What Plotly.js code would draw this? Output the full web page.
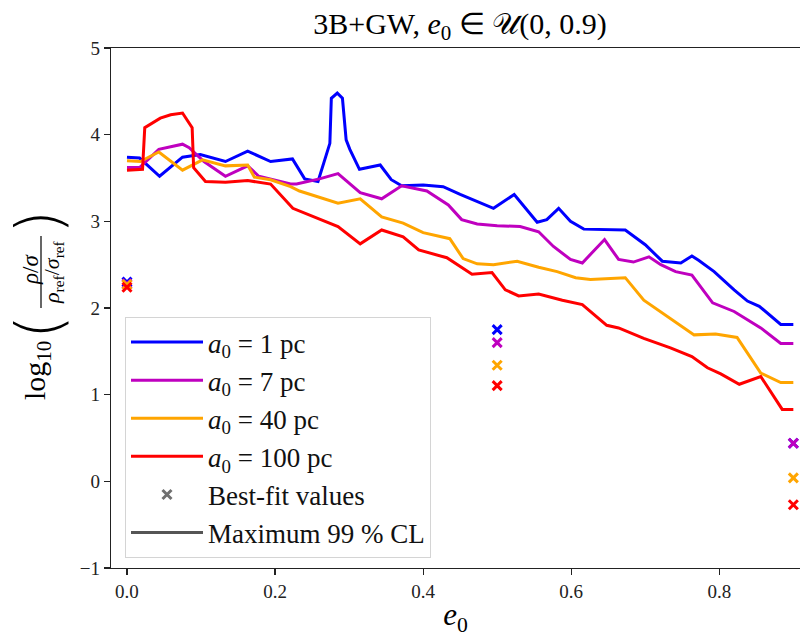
<!DOCTYPE html>
<html>
<head>
<meta charset="utf-8">
<script src="https://cdn.plot.ly/plotly-3.0.1.min.js"></script>
<style>
  html, body { margin: 0; padding: 0; background: #ffffff; }
  #chart { width: 800px; height: 637px; }
</style>
</head>
<body>
<div id="chart"></div>
<script>
// Maximum 99% CL curves, log10((rho/sigma)/(rho_ref/sigma_ref)) versus e0
const e1pc = [0, 0.017, 0.044, 0.075, 0.099, 0.133, 0.163, 0.194, 0.2235, 0.240, 0.258, 0.274, 0.276, 0.284, 0.291, 0.296, 0.301, 0.314, 0.342, 0.357, 0.371, 0.400, 0.427, 0.450, 0.495, 0.523, 0.554, 0.567, 0.583, 0.599, 0.617, 0.673, 0.700, 0.723, 0.748, 0.763, 0.772, 0.793, 0.820, 0.838, 0.854, 0.883, 0.900];
const v1pc = [3.74, 3.73, 3.52, 3.74, 3.77, 3.69, 3.81, 3.69, 3.72, 3.49, 3.46, 3.90, 4.42, 4.48, 4.42, 3.94, 3.83, 3.60, 3.65, 3.48, 3.41, 3.42, 3.40, 3.31, 3.15, 3.31, 2.99, 3.02, 3.15, 3.00, 2.91, 2.90, 2.73, 2.54, 2.52, 2.60, 2.55, 2.42, 2.21, 2.08, 2.02, 1.81, 1.81];

const e7pc = [0, 0.017, 0.043, 0.075, 0.084, 0.104, 0.133, 0.163, 0.178, 0.221, 0.229, 0.260, 0.285, 0.297, 0.315, 0.344, 0.371, 0.405, 0.434, 0.452, 0.473, 0.500, 0.531, 0.556, 0.576, 0.599, 0.615, 0.645, 0.664, 0.684, 0.705, 0.721, 0.741, 0.763, 0.791, 0.820, 0.856, 0.883, 0.900];
const v7pc = [3.62, 3.62, 3.83, 3.89, 3.85, 3.69, 3.52, 3.64, 3.52, 3.43, 3.43, 3.49, 3.55, 3.46, 3.33, 3.26, 3.41, 3.35, 3.19, 3.02, 2.97, 2.95, 2.94, 2.88, 2.71, 2.56, 2.52, 2.79, 2.56, 2.53, 2.59, 2.50, 2.42, 2.38, 2.06, 1.96, 1.77, 1.59, 1.59];

const e40pc = [0, 0.018, 0.043, 0.075, 0.102, 0.133, 0.163, 0.172, 0.194, 0.221, 0.233, 0.260, 0.285, 0.315, 0.344, 0.373, 0.400, 0.436, 0.454, 0.473, 0.495, 0.527, 0.556, 0.581, 0.606, 0.626, 0.673, 0.698, 0.730, 0.766, 0.795, 0.824, 0.856, 0.883, 0.900];
const v40pc = [3.70, 3.69, 3.80, 3.59, 3.71, 3.64, 3.65, 3.51, 3.48, 3.40, 3.35, 3.28, 3.21, 3.26, 3.05, 2.98, 2.87, 2.80, 2.57, 2.51, 2.50, 2.54, 2.47, 2.42, 2.35, 2.33, 2.35, 2.09, 1.90, 1.69, 1.70, 1.66, 1.25, 1.14, 1.14];

const e100pc = [0, 0.021, 0.024, 0.045, 0.059, 0.075, 0.088, 0.090, 0.106, 0.133, 0.163, 0.194, 0.224, 0.251, 0.285, 0.315, 0.344, 0.373, 0.394, 0.432, 0.466, 0.493, 0.511, 0.529, 0.556, 0.588, 0.615, 0.648, 0.664, 0.698, 0.734, 0.763, 0.784, 0.802, 0.827, 0.856, 0.885, 0.900];
const v100pc = [3.59, 3.60, 4.08, 4.19, 4.23, 4.25, 4.08, 3.62, 3.46, 3.45, 3.47, 3.43, 3.15, 3.06, 2.94, 2.74, 2.90, 2.82, 2.67, 2.58, 2.39, 2.41, 2.21, 2.14, 2.16, 2.09, 2.04, 1.80, 1.77, 1.65, 1.54, 1.44, 1.31, 1.24, 1.12, 1.21, 0.83, 0.83];

// Best-fit values at the sampled eccentricities
const bestE = [0, 0.5, 0.9];
const best1pc = [2.30, 1.75, 0.44];
const best7pc = [2.28, 1.60, 0.44];
const best40pc = [2.27, 1.34, 0.04];
const best100pc = [2.24, 1.105, -0.27];

const seriesNames = ['<i>a</i><sub>0</sub> = 1 pc', '<i>a</i><sub>0</sub> = 7 pc', '<i>a</i><sub>0</sub> = 40 pc', '<i>a</i><sub>0</sub> = 100 pc'];
const colors = ['#0000ff', '#bf00bf', '#ffa500', '#ff0000'];
const tickLabels = ['0.0', '0.2', '0.4', '0.6', '0.8'];
const tickValues = [0, 0.2, 0.4, 0.6, 0.8];

const curves = [[e1pc, v1pc], [e7pc, v7pc], [e40pc, v40pc], [e100pc, v100pc]];
const bests = [best1pc, best7pc, best40pc, best100pc];

const FONT = 'Liberation Serif';

const traces = [];
curves.forEach(([xs, ys], i) => {
  traces.push({
    x: xs, y: ys, type: 'scatter', mode: 'lines',
    name: seriesNames[i], legendgroup: 'g' + i,
    line: { color: colors[i], width: 3 },
    hoverinfo: 'skip'
  });
  traces.push({
    x: bestE, y: bests[i], type: 'scatter', mode: 'markers',
    showlegend: false, cliponaxis: false, legendgroup: 'g' + i,
    marker: { symbol: 'x-thin', size: 9, line: { color: colors[i], width: 3 } },
    hoverinfo: 'skip'
  });
});
// legend-only entries
traces.push({
  x: [null], y: [null], type: 'scatter', mode: 'markers', name: 'Best-fit values', legendgroup: 'bf',
  marker: { symbol: 'x-thin', size: 9, line: { color: '#707070', width: 3 } }
});
traces.push({
  x: [null], y: [null], type: 'scatter', mode: 'lines', name: 'Maximum 99 % CL', legendgroup: 'cl',
  line: { color: '#555555', width: 3 }
});

// y-axis label assembled from pieces: log10 ( (rho/sigma) / (rho_ref/sigma_ref) )
const L = 111, B = 568, W = 689, H = 520;
function lab(text, px, py, size, family, weight) {
  return {
    xref: 'paper', yref: 'paper', x: 0, y: 0,
    xshift: px - L, yshift: B - py,
    xanchor: 'center', yanchor: 'middle',
    text: text, showarrow: false, textangle: -90,
    font: { family: family || FONT, size: size, color: '#000', weight: weight || 'normal' }
  };
}
const annotations = [
  lab('log<sub>10</sub>', 37, 371, 30),
  lab('(', 38, 327, 62, 'DejaVu Sans', 200),
  lab(')', 38, 222, 62, 'DejaVu Sans', 200),
  lab('<i>ρ</i>/<i>σ</i>', 30, 270, 23),
  lab('<i>ρ</i><sub>ref</sub>/<i>σ</i><sub>ref</sub>', 53, 272, 22)
];
const shapes = [{
  type: 'line', xref: 'paper', yref: 'paper',
  x0: (41 - L) / W, x1: (41 - L) / W,
  y0: (B - 236) / H, y1: (B - 308) / H,
  line: { color: '#000', width: 1.2 }
}];

const layout = {
  width: 800, height: 637,
  margin: { l: L, r: 0, t: 48, b: 69 },
  paper_bgcolor: '#ffffff', plot_bgcolor: '#ffffff',
  font: { family: FONT, color: '#000' },
  title: {
    text: '3B+GW, <i>e</i><sub>0</sub> ∈ 𝒰(0, 0.9)',
    x: 0.575, xanchor: 'center', y: 1 - 23 / 637, yanchor: 'middle',
    font: { family: FONT, size: 30, color: '#000' }
  },
  xaxis: {
    range: [-0.0216, 0.909],
    tickvals: tickValues,
    ticktext: tickLabels,
    ticks: 'outside', ticklen: 6, tickwidth: 1.3, tickcolor: '#222',
    showline: true, linecolor: '#222', linewidth: 1.3, mirror: true,
    showgrid: false, zeroline: false,
    tickfont: { family: FONT, size: 19, color: '#222' },
    title: { text: '<i>e</i><sub>0</sub>', font: { family: FONT, size: 31, color: '#000' }, standoff: 10 }
  },
  yaxis: {
    range: [-1, 5], dtick: 1, tick0: 0,
    ticks: 'outside', ticklen: 6, tickwidth: 1.3, tickcolor: '#222',
    showline: true, linecolor: '#222', linewidth: 1.3, mirror: false,
    showgrid: false, zeroline: false,
    tickfont: { family: FONT, size: 19, color: '#222' }
  },
  showlegend: true,
  legend: {
    x: (125 - L) / W, y: (B - 317) / H, xanchor: 'left', yanchor: 'top',
    bgcolor: 'rgba(255,255,255,0.85)', bordercolor: '#d4d4d4', borderwidth: 1,
    font: { family: FONT, size: 27, color: '#111' },
    itemwidth: 72, tracegroupgap: 0,
    traceorder: 'normal'
  },
  annotations: annotations,
  shapes: shapes
};

Plotly.newPlot('chart', traces, layout, { displayModeBar: false, staticPlot: true });
</script>
</body>
</html>
